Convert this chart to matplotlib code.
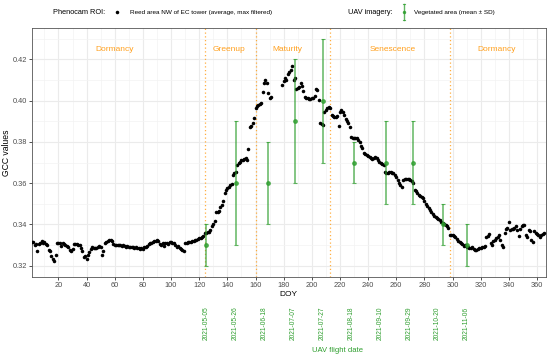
import numpy as np
import matplotlib
matplotlib.use("Agg")
import matplotlib.pyplot as plt
import matplotlib.transforms as mtransforms

plt.rcParams['font.family'] = ['Liberation Sans', 'DejaVu Sans']

# ---------------- data ----------------
doy = list(range(1, 366))
gcc = [
    0.3313, 0.3316, 0.3300, 0.3305, 0.3270, 0.3305, 0.3310, 0.3320, 0.3310, 0.3315,
    0.3305, 0.3300, 0.3277, 0.3270, 0.3245, 0.3230, 0.3225, 0.3253, 0.3310, 0.3310,
    0.3310, 0.3297, 0.3310, 0.3305, 0.3300, 0.3295, 0.3290, 0.3277, 0.3270, 0.3280,
    0.3305, 0.3305, 0.3305, 0.3302, 0.3300, 0.3285, 0.3270, 0.3240, 0.3245, 0.3232,
    0.3250, 0.3265, 0.3280, 0.3290, 0.3288, 0.3285, 0.3288, 0.3290, 0.3295, 0.3290,
    0.3253, 0.3270, 0.3310, 0.3315, 0.3320, 0.3325, 0.3326, 0.3318, 0.3305, 0.3300,
    0.3300, 0.3298, 0.3300, 0.3298, 0.3297, 0.3300, 0.3295, 0.3292, 0.3295, 0.3290,
    0.3292, 0.3290, 0.3290, 0.3288, 0.3292, 0.3288, 0.3285, 0.3280, 0.3285, 0.3280,
    0.3290, 0.3290, 0.3295, 0.3305, 0.3310, 0.3312, 0.3315, 0.3318, 0.3320, 0.3323,
    0.3320, 0.3305, 0.3298, 0.3310, 0.3297, 0.3310, 0.3310, 0.3305, 0.3316, 0.3315,
    0.3312, 0.3310, 0.3300, 0.3290, 0.3295, 0.3285, 0.3280, 0.3274, 0.3270, 0.3310,
    0.3312, 0.3315, 0.3315, 0.3316, 0.3318, 0.3320, 0.3323, 0.3326, 0.3330, 0.3334,
    0.3336, 0.3340, 0.3345, 0.3358, 0.3360, 0.3362, 0.3365, 0.3375, 0.3390, 0.3400,
    0.3415, 0.3458, 0.3460, 0.3465, 0.3485, 0.3495, 0.3513, 0.3550, 0.3565, 0.3575,
    0.3580, 0.3590, 0.3597, 0.3640, 0.3650, 0.3655, 0.3690, 0.3700, 0.3705, 0.3710,
    0.3712, 0.3718, 0.3720, 0.3714, 0.3765, 0.3874, 0.3877, 0.3890, 0.3914, 0.3963,
    0.3975, 0.3980, 0.3982, 0.3987, 0.4043, 0.4085, 0.4100, 0.4084, 0.4035, 0.4011,
    0.4020, np.nan, np.nan, np.nan, np.nan, np.nan, np.nan, np.nan, 0.4076, 0.4095,
    0.4108, 0.4100, 0.4130, 0.4140, 0.4148, 0.4168, 0.4100, 0.4108, 0.4055, 0.4060,
    0.4068, 0.4084, 0.4070, 0.4048, 0.4020, 0.4015, 0.4011, 0.4006, 0.4008, 0.4011,
    0.4015, 0.4023, 0.4055, 0.4050, 0.4003, 0.3894, 0.3885, 0.3880, 0.3947, 0.3955,
    0.3963, 0.3970, 0.3965, 0.3930, 0.3925, 0.3920, 0.3920, 0.3925, 0.3877, 0.3947,
    0.3955, 0.3945, 0.3930, 0.3910, 0.3900, 0.3890, 0.3870, 0.3826, 0.3820, 0.3818,
    0.3818, 0.3818, 0.3810, 0.3800, 0.3780, 0.3770, 0.3745, 0.3740, 0.3737, 0.3730,
    0.3726, 0.3720, 0.3716, 0.3720, 0.3726, 0.3720, 0.3713, 0.3705, 0.3700, 0.3695,
    0.3689, 0.3652, 0.3648, 0.3650, 0.3655, 0.3656, 0.3650, 0.3648, 0.3640, 0.3632,
    0.3615, 0.3600, 0.3590, 0.3580, 0.3616, 0.3618, 0.3620, 0.3620, 0.3618, 0.3616,
    0.3610, 0.3600, 0.3568, 0.3560, 0.3552, 0.3545, 0.3540, 0.3533, 0.3527, 0.3515,
    0.3500, 0.3487, 0.3478, 0.3470, 0.3460, 0.3452, 0.3442, 0.3436, 0.3430, 0.3425,
    0.3422, 0.3410, 0.3405, 0.3403, 0.3395, 0.3390, 0.3385, 0.3350, 0.3350, 0.3350,
    0.3345, 0.3340, 0.3330, 0.3318, 0.3315, 0.3310, 0.3305, 0.3297, 0.3300, 0.3292,
    0.3290, 0.3285, 0.3288, 0.3290, 0.3280, 0.3274, 0.3278, 0.3280, 0.3285, 0.3288,
    0.3290, 0.3292, 0.3297, 0.3340, 0.3345, 0.3355, 0.3310, 0.3300, 0.3318, 0.3325,
    0.3334, 0.3340, 0.3350, 0.3323, 0.3300, 0.3290, 0.3358, 0.3377, 0.3385, 0.3410,
    0.3374, 0.3380, 0.3377, 0.3385, 0.3390, 0.3374, 0.3342, 0.3380, 0.3390, 0.3398,
    0.3398, 0.3350, 0.3340, 0.3374, 0.3370, 0.3323, 0.3313, 0.3366, 0.3360, 0.3355,
    0.3350, 0.3340, 0.3350, 0.3355, 0.3358,
]

uav_doy = [125, 146, 169, 188, 208, 230, 253, 272, 293, 310]
uav_mean = [0.33, 0.36, 0.36, 0.39, 0.40, 0.37, 0.37, 0.37, 0.34, 0.33]
uav_sd = [0.01, 0.03, 0.02, 0.03, 0.03, 0.01, 0.02, 0.02, 0.01, 0.01]
uav_dates = ["2021-05-05", "2021-05-26", "2021-06-18", "2021-07-07", "2021-07-27",
             "2021-08-18", "2021-09-10", "2021-09-29", "2021-10-20", "2021-11-06"]

phase_bounds = [124, 160, 213, 298]
phase_names = ["Dormancy", "Greenup", "Maturity", "Senescence", "Dormancy"]
phase_label_x = [60, 141.5, 183, 257.5, 331]

x_ticks = list(range(20, 361, 20))
y_ticks = [0.32, 0.34, 0.36, 0.38, 0.40, 0.42]

# ---------------- style ----------------
W, H = 550, 358
fig = plt.figure(figsize=(W / 100, H / 100), dpi=100)
L, R, T, B = 32, 546, 28.3, 277
ax = fig.add_axes([L / W, 1 - B / H, (R - L) / W, (B - T) / H])

orange = "#FFA01E"
green = "#2E9E2E"
tick_col = "#4D4D4D"
grid_col = "#EBEBEB"

ax.set_xlim(1.2, 366.4)
ax.set_ylim(0.3145, 0.4351)
ax.set_xticks(x_ticks)
ax.set_yticks(y_ticks)
ax.set_yticklabels([f"{v:.2f}" for v in y_ticks])
ax.set_xticks(list(range(10, 366, 20)), minor=True)
ax.set_yticks([0.33, 0.35, 0.37, 0.39, 0.41, 0.43], minor=True)
ax.grid(which="major", color=grid_col, lw=0.8, zorder=0)
ax.grid(which="minor", color="#F3F3F3", lw=0.5, zorder=0)
ax.set_axisbelow(True)
ax.tick_params(which="major", length=2, width=0.6, color="#333333",
               labelsize=5.3, labelcolor=tick_col, pad=1.5)
ax.tick_params(which="minor", length=0)
for s in ax.spines.values():
    s.set_color("#555555")
    s.set_linewidth(0.6)

for xb in phase_bounds:
    ax.axvline(xb, color=orange, ls=(0, (1.0, 2)), lw=0.9, alpha=0.85, zorder=1)

for name, xp in zip(phase_names, phase_label_x):
    ax.text(xp, 0.4248, name, color=orange, fontsize=6, ha="center", va="center")

ax.scatter(doy, gcc, s=6.5, color="black", linewidths=0, zorder=3)
ax.errorbar(uav_doy, uav_mean, yerr=uav_sd, fmt="o", ms=2.5, color=green,
            ecolor=green, elinewidth=1.1, capsize=1.4, capthick=0.8,
            alpha=0.75, zorder=4)

# secondary labels (UAV flight dates), evenly spread from first to last flight
trans = mtransforms.blended_transform_factory(ax.transData, fig.transFigure)
lab_x = np.linspace(uav_doy[0], uav_doy[-1], len(uav_dates))
for xp, d in zip(lab_x, uav_dates):
    fig.text(xp, 1 - 323 / H, d, transform=trans, rotation=90, color=green,
             fontsize=4.8, ha="center", va="center")
fig.text(337.5 / W, 1 - 350 / H, "UAV flight date", color=green, fontsize=5.5,
         ha="center", va="center")

fig.text(288.5 / W, 1 - 294 / H, "DOY", fontsize=6, ha="center", va="center")
fig.text(6.7 / W, 1 - 152.5 / H, "GCC values", fontsize=6.2, rotation=90,
         ha="center", va="center")

# legend
ov = fig.add_axes([0, 0, 1, 1], facecolor="none")
ov.set_xlim(0, W)
ov.set_ylim(H, 0)
ov.axis("off")
ly = 12.3
ov.text(53, ly, "Phenocam ROI:", fontsize=5.3, ha="left", va="center")
ov.scatter([117], [ly], s=6.5, color="black", linewidths=0)
ov.text(130, ly, "Reed area NW of EC tower (average, max filtered)", fontsize=4.6,
        ha="left", va="center")
ov.text(348, ly, "UAV imagery:", fontsize=5.3, ha="left", va="center")
ov.plot([404, 404], [4, 20], color=green, lw=1.0, alpha=0.75)
ov.plot([403, 405], [4, 4], color=green, lw=0.8, alpha=0.75)
ov.plot([403, 405], [20, 20], color=green, lw=0.8, alpha=0.75)
ov.scatter([404], [ly], s=6, color=green, linewidths=0, alpha=0.9)
ov.text(414, ly, "Vegetated area (mean \u00b1 SD)", fontsize=4.6, ha="left", va="center")

fig.savefig("out.png", dpi=100)
